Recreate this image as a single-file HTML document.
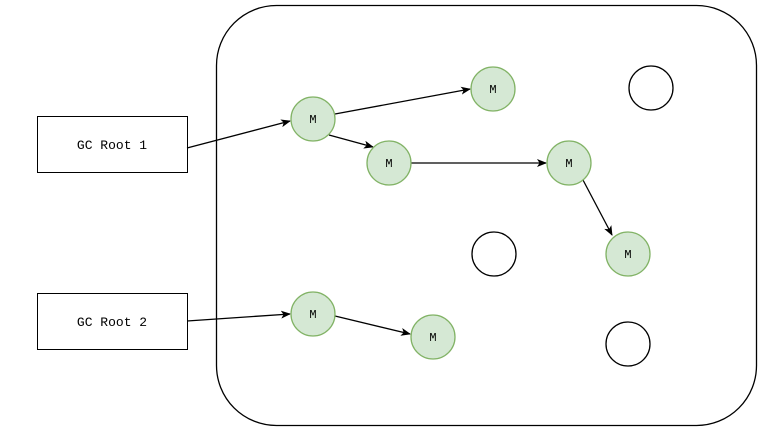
<!DOCTYPE html>
<html><head><style>body{margin:0;background:#fff}svg{display:block}</style></head><body>
<svg width="774" height="438" xmlns="http://www.w3.org/2000/svg">
<defs><marker id="a" markerWidth="10" markerHeight="8" refX="9" refY="4" orient="auto" markerUnits="userSpaceOnUse"><path d="M0,0 L10,4 L0,8 L2.5,4 Z" fill="#000"/></marker></defs>
<rect x="216.5" y="5.5" width="540" height="420" rx="60" fill="none" stroke="#000" stroke-width="1.3"/>
<g fill="#fff" stroke="#000" stroke-width="1">
<rect x="37.5" y="116.5" width="150" height="56"/>
<rect x="37.5" y="293.5" width="150" height="56"/>
</g>
<g font-family="Liberation Mono, monospace" font-size="13" text-anchor="middle">
<text x="112" y="149">GC Root 1</text>
<text x="112" y="326">GC Root 2</text>
</g>
<g stroke="#000" stroke-width="1.3" marker-end="url(#a)">
<line x1="187" y1="148" x2="290" y2="121"/>
<line x1="187" y1="321" x2="290" y2="314"/>
<line x1="335" y1="114" x2="470" y2="89"/>
<line x1="329" y1="135" x2="373" y2="147"/>
<line x1="411" y1="163" x2="546" y2="163"/>
<line x1="583" y1="180" x2="612" y2="235"/>
<line x1="335" y1="316" x2="410" y2="334"/>
</g>
<g fill="#d5e8d4" stroke="#82b366" stroke-width="1.3">
<circle cx="313" cy="119" r="22"/><circle cx="389" cy="163" r="22"/><circle cx="493" cy="89" r="22"/>
<circle cx="569" cy="163" r="22"/><circle cx="628" cy="254" r="22"/><circle cx="313" cy="314" r="22"/><circle cx="433" cy="337" r="22"/>
</g>
<g fill="#fff" stroke="#000" stroke-width="1.3">
<circle cx="651" cy="88" r="22"/><circle cx="494" cy="254" r="22"/><circle cx="628" cy="344" r="22"/>
</g>
<g font-family="Liberation Mono, monospace" font-size="12" text-anchor="middle">
<text x="313" y="123">M</text><text x="389" y="167">M</text><text x="493" y="93">M</text>
<text x="569" y="167">M</text><text x="628" y="258">M</text><text x="313" y="318">M</text><text x="433" y="341">M</text>
</g>
</svg>
</body></html>
